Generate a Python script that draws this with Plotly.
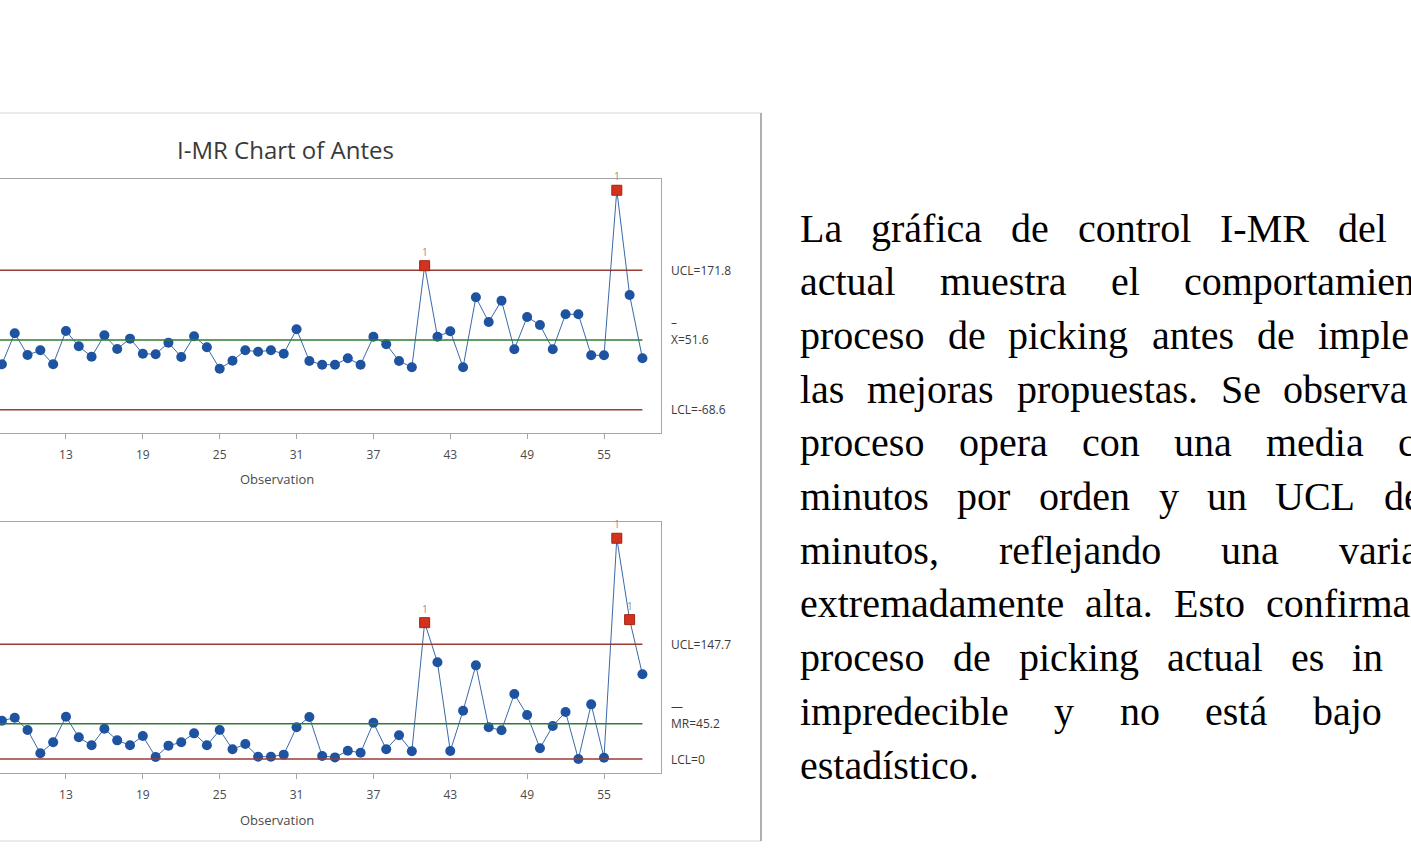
import plotly.graph_objects as go

W, H = 1411, 863

# ---- data -------------------------------------------------------------
observations = list(range(8, 59))
individual = [9.7, 63.2, 25.7, 33.8, 9.7, 67.1, 40.7, 22.8, 59.7, 36.1,
              53.9, 28.0, 27.0, 47.0, 22.3, 58.0, 39.0, 2.1, 15.9, 33.8,
              31.4, 33.8, 28.0, 70.1, 15.4, 9.0, 9.0, 20.0, 9.0, 57.3,
              44.2, 15.4, 4.5, 179.7, 57.3, 66.6, 4.5, 125.2, 82.6, 119.4,
              35.6, 91.3, 77.5, 35.6, 95.9, 95.9, 25.2, 25.2, 309.8, 129.2,
              20.0]
moving_range = [49.3, 53.1, 37.3, 7.3, 21.5, 54.4, 27.9, 17.6, 39.0, 24.0,
                17.6, 29.6, 2.6, 17.2, 21.5, 33.0, 17.6, 37.3, 12.5, 19.3,
                3.0, 3.0, 5.6, 40.8, 54.0, 3.9, 2.1, 10.7, 8.1, 46.7,
                12.5, 30.5, 9.9, 175.4, 124.4, 10.3, 62.1, 120.5, 40.8, 36.9,
                83.6, 56.6, 13.8, 42.5, 60.5, 0.0, 70.3, 1.7, 284.0, 179.3,
                109.0]
i_limits = {"UCL": 171.8, "CL": 51.6, "LCL": -68.6}
mr_limits = {"UCL": 147.7, "CL": 45.2, "LCL": 0}
tick_obs = [1, 7, 13, 19, 25, 31, 37, 43, 49, 55]
n_first, n_last = 1, 58

# justified paragraph: (word, left edge in px) per line
paragraph = [
    [("La", 800), ("gráfica", 871), ("de", 1011), ("control", 1078), ("I-MR", 1220), ("del", 1338)],
    [("actual", 800), ("muestra", 940), ("el", 1111), ("comportamien", 1184)],
    [("proceso", 800), ("de", 948), ("picking", 1008), ("antes", 1152), ("de", 1257), ("imple", 1318)],
    [("las", 800), ("mejoras", 867), ("propuestas.", 1017), ("Se", 1221), ("observa", 1283)],
    [("proceso", 800), ("opera", 959), ("con", 1082), ("una", 1174), ("media", 1266), ("c", 1398)],
    [("minutos", 800), ("por", 957), ("orden", 1039), ("y", 1159), ("un", 1207), ("UCL", 1275), ("de", 1384)],
    [("minutos,", 800), ("reflejando", 999), ("una", 1221), ("varia", 1339)],
    [("extremadamente", 800), ("alta.", 1085), ("Esto", 1174), ("confirma", 1266)],
    [("proceso", 800), ("de", 953), ("picking", 1019), ("actual", 1167), ("es", 1291), ("in", 1352)],
    [("impredecible", 800), ("y", 1054), ("no", 1120), ("está", 1205), ("bajo", 1313)],
    [("estadístico.", 800)],
]

# ---- styles -----------------------------------------------------------
SANS = "Open Sans"
SERIF = "Liberation Serif"
BLUE = "#1d53a1"
LINE_BLUE = "#3b6aa8"
RED = "#d2321e"
LIMIT = "#9a3b34"
CENTER = "#2e7d32"
FRAME = "#a6a6a6"

fig = go.Figure()


def px_x(p):
    return p / W


def px_y(p):
    return (H - p) / H


def add_chart(values, limits, xa, ya):
    ucl = limits["UCL"]
    # connecting line and points
    fig.add_trace(go.Scatter(
        x=observations, y=values, mode="lines+markers",
        line=dict(color=LINE_BLUE, width=1),
        marker=dict(color=BLUE, size=10, symbol="circle"),
        xaxis=xa, yaxis=ya, showlegend=False, hoverinfo="skip"))
    # control limits and centre line
    for key, col in (("UCL", LIMIT), ("LCL", LIMIT), ("CL", CENTER)):
        fig.add_trace(go.Scatter(
            x=[n_first, n_last], y=[limits[key]] * 2, mode="lines",
            line=dict(color=col, width=1.5),
            xaxis=xa, yaxis=ya, showlegend=False, hoverinfo="skip"))
    # points beyond the upper control limit (test 1)
    ox = [o for o, v in zip(observations, values) if v > ucl]
    oy = [v for v in values if v > ucl]
    fig.add_trace(go.Scatter(
        x=ox, y=oy, mode="markers",
        marker=dict(color=RED, size=10, symbol="square",
                    line=dict(color="#a52616", width=1)),
        xaxis=xa, yaxis=ya, showlegend=False, hoverinfo="skip"))
    for o, v in zip(ox, oy):
        fig.add_annotation(x=o, y=v, xref=xa, yref=ya, text="1",
                           showarrow=False, yshift=14,
                           font=dict(family=SANS, size=10, color="#8f8f8f"))


add_chart(individual, i_limits, "x", "y")
add_chart(moving_range, mr_limits, "x2", "y2")

axis_common = dict(showgrid=False, zeroline=False)
xcommon = dict(axis_common, range=[7.85, 59.45], domain=[0, px_x(661)],
               showline=True, mirror=True, linecolor=FRAME, linewidth=1,
               tickmode="array", tickvals=tick_obs, ticks="outside",
               ticklen=5, tickcolor=FRAME, ticklabelstandoff=6,
               tickfont=dict(family=SANS, size=12, color="#4a4a4a"))
ycommon = dict(axis_common, side="right", showline=True, linecolor=FRAME,
               linewidth=1, showticklabels=False, ticks="")

fig.update_layout(
    width=W, height=H,
    margin=dict(l=0, r=0, t=0, b=0),
    paper_bgcolor="white", plot_bgcolor="white",
    xaxis=dict(xcommon, anchor="y"),
    yaxis=dict(ycommon, anchor="x", domain=[px_y(433), px_y(179)],
               range=[-108.8, 329.2]),
    xaxis2=dict(xcommon, anchor="y2"),
    yaxis2=dict(ycommon, anchor="x2", domain=[px_y(773), px_y(522)],
                range=[-18.0, 304.9]),
)

# chart title and axis titles
fig.add_annotation(x=px_x(285), y=px_y(150), xref="paper", yref="paper",
                   xanchor="center", yanchor="middle",
                   text="I-MR Chart of Antes", showarrow=False,
                   font=dict(family=SANS, size=24, color="#3a3a3a"))
for yy in (479, 820):
    fig.add_annotation(x=px_x(277), y=px_y(yy), xref="paper", yref="paper",
                       xanchor="center", yanchor="middle",
                       text="Observation", showarrow=False,
                       font=dict(family=SANS, size=13, color="#4a4a4a"))

# limit labels at the right of each panel
label_font = dict(family=SANS, size=12, color="#3a3a3a")


def limit_labels(limits, ya, centre_name, bar):
    common = dict(x=px_x(669), xref="paper", yref=ya, xanchor="left",
                  yanchor="middle", showarrow=False, font=label_font)
    fig.add_annotation(y=limits["UCL"], text=f"UCL={limits['UCL']}", **common)
    fig.add_annotation(y=limits["CL"], text=f"{centre_name}={limits['CL']}", **common)
    fig.add_annotation(y=limits["CL"], yshift=17, text=bar, **common)
    fig.add_annotation(y=limits["LCL"], text=f"LCL={limits['LCL']}", **common)


limit_labels(i_limits, "y", "X", "–")
limit_labels(mr_limits, "y2", "MR", "—")

# frame around the chart picture
fig.add_shape(type="line", xref="paper", yref="paper", x0=0, x1=px_x(761),
              y0=px_y(113), y1=px_y(113), line=dict(color="#d6d6d6", width=1))
fig.add_shape(type="line", xref="paper", yref="paper", x0=0, x1=px_x(761),
              y0=px_y(841), y1=px_y(841), line=dict(color="#d6d6d6", width=1))
fig.add_shape(type="line", xref="paper", yref="paper", x0=px_x(761),
              x1=px_x(761), y0=px_y(113), y1=px_y(841),
              line=dict(color="#b0b0b0", width=2))

# paragraph beside the chart
line_top, line_gap = 228, 53.7
for i, words in enumerate(paragraph):
    yc = line_top + i * line_gap
    for word, xpos in words:
        fig.add_annotation(x=px_x(xpos), y=px_y(yc), xref="paper", yref="paper",
                           xanchor="left", yanchor="middle", text=word,
                           showarrow=False, borderpad=0, borderwidth=0,
                           font=dict(family=SERIF, size=40, color="#000000"))

fig.write_html("out.html")
